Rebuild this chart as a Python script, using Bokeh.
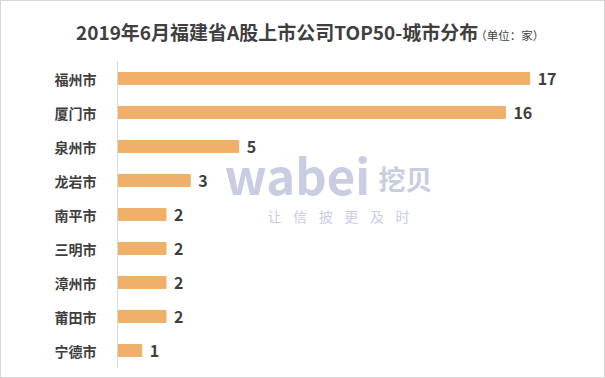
from bokeh.plotting import figure
from bokeh.models import FactorRange, Range1d, Label, Div
from bokeh.layouts import column
from bokeh.core.properties import value
from bokeh.embed import file_html
from bokeh.resources import INLINE

cities = ["福州市", "厦门市", "泉州市", "龙岩市", "南平市", "三明市", "漳州市", "莆田市", "宁德市"]
counts = [17, 16, 5, 3, 2, 2, 2, 2, 1]
title_text = "2019年6月福建省A股上市公司TOP50-城市分布"
unit_text = "（单位：家）"
wm_main = "wabei"
wm_cn = "挖贝"
wm_slogan = "让信披更及时"

FONT = "Noto Sans CJK SC"
BAR = "#F0B069"
TXT = "#3f3f3f"
WM = "#c9cde2"
EDGE = "1px solid #d6d6d6"

HEAD = 50

div = Div(
    text=(f'<div style="padding:19px 0 0 75px;line-height:24px;white-space:nowrap">'
          f'<span style="font-family:\'{FONT}\';font-size:19px;font-weight:bold;color:{TXT}">{title_text}</span>'
          f'<span style="font-family:\'{FONT}\';font-size:11.5px;color:{TXT};margin-left:-3px">{unit_text}</span>'
          f'</div>'),
    width=605, height=HEAD, margin=0,
    styles={"box-sizing": "border-box", "overflow": "hidden", "background": "white",
            "border-top": EDGE, "border-left": EDGE, "border-right": EDGE})

p = figure(width=605, height=378 - HEAD, output_backend="svg", toolbar_location=None,
           y_range=FactorRange(*reversed(cities)), x_range=Range1d(0, 19.55),
           min_border_left=116, min_border_right=15, min_border_top=61 - HEAD, min_border_bottom=11)
p.styles = {"box-sizing": "border-box", "border-left": EDGE, "border-right": EDGE, "border-bottom": EDGE}
p.outline_line_color = None
p.xaxis.visible = False
p.xgrid.visible = False
p.ygrid.visible = False
p.yaxis.axis_line_color = "#d9d9d9"
p.yaxis.major_tick_line_color = None
p.yaxis.minor_tick_line_color = None
p.yaxis.major_label_standoff = 15
p.yaxis.major_label_text_font = FONT
p.yaxis.major_label_text_font_style = "bold"
p.yaxis.major_label_text_font_size = "14px"
p.yaxis.major_label_text_color = TXT


def canvas_label(x, y, text, size, bold=False, color=TXT):
    p.add_layout(Label(x=x, y=y - HEAD, x_units="canvas", y_units="canvas", text=text,
                       text_font=FONT, text_font_style="bold" if bold else "normal",
                       text_font_size=size, text_color=color,
                       text_baseline="top", text_align="left"))


# watermark
canvas_label(222, 137, wm_main, "49px", bold=True, color=WM)
canvas_label(376, 158, wm_cn, "27px", bold=True, color=WM)
for i, ch in enumerate(wm_slogan):
    canvas_label(265 + i * 25.6, 205, ch, "14px", color=WM)

p.hbar(y=cities, right=counts, height=0.35, color=BAR)
p.text(x=counts, y=cities, text=[str(c) for c in counts], x_offset=8,
       text_font=value(FONT), text_font_style="bold", text_font_size="16px",
       text_color=TXT, text_baseline="middle", text_align="left")

layout = column(div, p, spacing=0)
open("out.html", "w").write(file_html(layout, INLINE))
